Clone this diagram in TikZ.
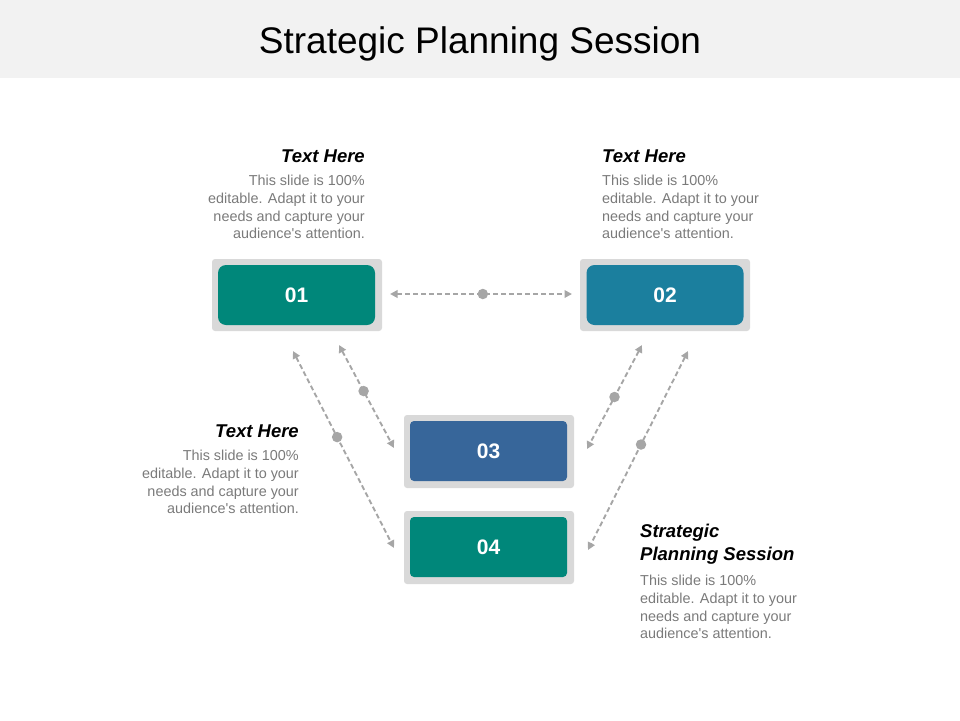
\documentclass[tikz,border=0pt]{standalone}
\usepackage{fontspec}
\setmainfont{Liberation Sans}
\usetikzlibrary{arrows.meta}
\definecolor{hdr}{HTML}{F2F2F2}
\definecolor{frame}{HTML}{D9D9D9}
\definecolor{teal}{HTML}{00877A}
\definecolor{tealblue}{HTML}{1B7F9E}
\definecolor{steel}{HTML}{37669A}
\definecolor{arr}{HTML}{A6A6A6}
\definecolor{bodytxt}{HTML}{7A7A7A}
\newcommand{\bodytext}{This slide is 100\%\\editable. Adapt it to your\\needs and capture your\\audience\textquotesingle s attention.}
\begin{document}
\begin{tikzpicture}[x=1pt,y=-1pt,
  outerbox/.style={fill=frame, rounded corners=3pt, minimum width=170pt, minimum height=72pt, inner sep=0pt},
  innerbox/.style={rounded corners=#1, minimum width=157pt, minimum height=60pt, inner sep=0pt,
     text=white, font=\fontsize{21}{24}\selectfont\bfseries},
  conn/.style={draw=arr, line width=1.9pt, dash pattern=on 5pt off 3pt,
     {Triangle[length=7.5pt,width=7.5pt]}-{Triangle[length=7.5pt,width=7.5pt]}},
  dotmark/.style={circle, fill=arr, minimum size=10.5pt, inner sep=0pt},
  ttl/.style={font=\fontsize{18.5}{23}\selectfont\bfseries\itshape, inner sep=0pt},
  bodyt/.style={font=\fontsize{14.4}{17.7}\selectfont, text=bodytxt, inner sep=0pt}
]
\useasboundingbox (0,0) rectangle (960,720);
\fill[hdr] (0,0) rectangle (960,78);
\node[font=\fontsize{37}{40}\selectfont, inner sep=0pt] (title) at (480,43.5) {Strategic Planning Session};

% boxes
\node[outerbox] (o1) at (297,295) {};
\node[innerbox=8pt, fill=teal] (n1) at (296.5,295) {01};
\node[outerbox] (o2) at (665,295) {};
\node[innerbox=8pt, fill=tealblue] (n2) at (665,295) {02};
\node[outerbox, minimum height=73pt] (o3) at (489,451.5) {};
\node[innerbox=4pt, fill=steel] (n3) at (488.5,451) {03};
\node[outerbox, minimum height=73pt] (o4) at (489,547.5) {};
\node[innerbox=4pt, fill=teal] (n4) at (488.5,547) {04};

% connector ends
\coordinate (h1) at (390,294);
\coordinate (h2) at (572,294);
\coordinate (a1) at (293,351);
\coordinate (a2) at (394,548);
\coordinate (b1) at (339,345);
\coordinate (b2) at (394,448);
\coordinate (c1) at (642,345);
\coordinate (c2) at (587,449);
\coordinate (d1) at (688,351);
\coordinate (d2) at (588,550);

\draw[conn] (h1) -- node[dotmark, pos=0.51] (hd) {} (h2);
\draw[conn] (a1) -- node[dotmark, pos=0.437] (ad) {} (a2);
\draw[conn] (b1) -- node[dotmark, pos=0.447] (bd) {} (b2);
\draw[conn] (c1) -- node[dotmark, pos=0.5] (cd) {} (c2);
\draw[conn] (d1) -- node[dotmark, pos=0.47] (dd) {} (d2);

% text blocks
\node[ttl, anchor=base east] (t1) at (365,162) {Text Here};
\node[bodyt, anchor=north east, align=right] (x1) at (365,175) {\bodytext};

\node[ttl, anchor=base west] (t2) at (602,162) {Text Here};
\node[bodyt, anchor=north west, align=left] (x2) at (602,175) {\bodytext};

\node[ttl, anchor=base east] (t3) at (299,437) {Text Here};
\node[bodyt, anchor=north east, align=right] (x3) at (299,450) {\bodytext};

\node[ttl, anchor=north west, align=left] (t4) at (640,524) {Strategic\\Planning Session};
\node[bodyt, anchor=north west, align=left] (x4) at (640,575) {\bodytext};
\end{tikzpicture}
\end{document}
